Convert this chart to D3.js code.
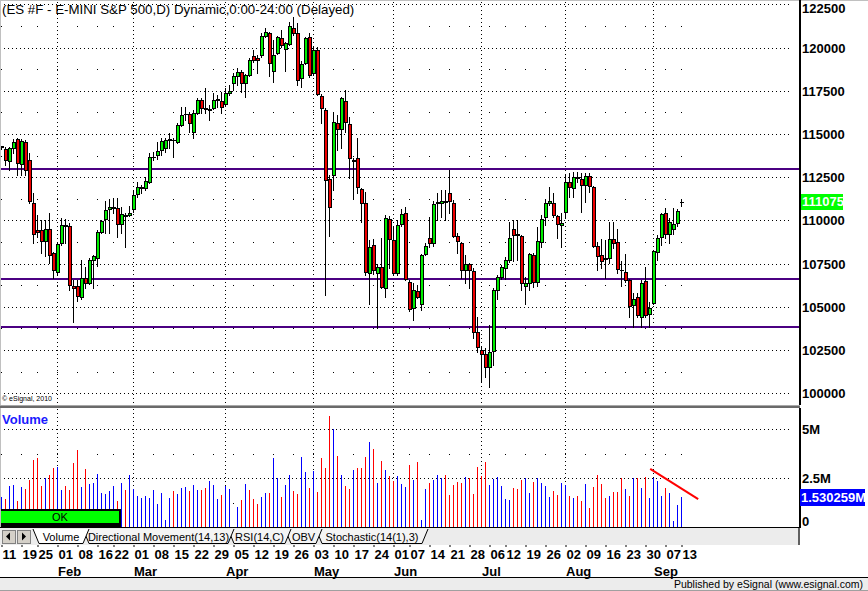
<!DOCTYPE html>
<html><head><meta charset="utf-8">
<script src="https://cdn.jsdelivr.net/npm/d3@7"></script>
<style>body{margin:0;background:#fff}svg{display:block}</style>
</head><body><svg id="c" width="868" height="591"></svg>
<script>
// ---------- DATA ----------
const title = "(ES #F - E-MINI S&P 500,D) Dynamic,0:00-24:00 (Delayed)";
// daily bars, index 0 = 11 Jan 2010 ... 170 = 13 Sep 2010 (index points; axis shows x100)
const open = [1142.2,1141.3,1134.4,1141.9,1147.1,1132.6,1145.4,1135.0,1110.1,1094.4,
1094.4,1088.1,1095.0,1081.1,1070.1,1086.9,1097.6,1096.8,1062.0,1062.0,
1055.7,1066.7,1063.8,1077.1,1078.2,1093.3,1100.8,1106.6,1106.9,1107.2,
1097.9,1103.4,1103.4,1106.6,1115.3,1118.5,1118.8,1122.2,1136.5,1137.9,
1140.7,1141.9,1146.8,1146.8,1145.4,1155.2,1161.3,1161.6,1151.2,1162.2,
1169.7,1165.3,1163.6,1165.0,1169.4,1169.1,1167.4,1174.0,1179.5,1183.6,
1185.9,1179.5,1184.1,1195.1,1193.7,1195.7,1206.7,1208.4,1186.5,1196.9,
1205.6,1199.2,1202.1,1211.3,1208.4,1182.4,1191.1,1206.1,1185.3,1198.6,
1172.0,1163.9,1124.0,1126.3,1156.4,1152.9,1169.1,1155.8,1134.1,1136.1,
1118.2,1110.1,1069.6,1085.8,1069.6,1073.0,1060.9,1100.8,1088.7,1069.6,
1097.9,1104.3,1064.4,1049.3,1059.2,1051.6,1080.6,1089.8,1086.9,1109.8,
1110.1,1111.5,1115.9,1110.1,1091.0,1086.9,1071.3,1074.8,1070.7,1035.4,
1025.0,1022.7,1015.2,1024.4,1059.7,1067.3,1072.5,1077.1,1095.0,1091.9,
1091.0,1062.0,1063.8,1080.0,1064.4,1087.5,1102.0,1110.1,1110.1,1102.5,
1097.3,1104.9,1122.2,1118.8,1124.9,1124.0,1120.5,1125.7,1119.3,1085.2,
1080.0,1078.0,1078.2,1089.2,1087.5,1071.5,1070.1,1065.5,1051.0,1055.7,
1044.1,1064.9,1045.8,1052.2,1081.7,1090.4,1104.3,1092.1,1095.0,1098.5,
1110.75];
const high = [1143.2,1142.5,1142.5,1147.1,1147.7,1147.1,1146.6,1139.0,1115.9,1103.1,
1100.2,1100.2,1104.3,1081.5,1086.9,1101.4,1100.8,1098.5,1065.5,1065.5,
1077.1,1073.0,1078.2,1080.0,1094.4,1100.2,1111.2,1112.4,1113.0,1113.0,
1107.8,1104.3,1108.3,1117.6,1122.2,1120.5,1125.1,1139.0,1139.6,1145.4,
1147.7,1147.7,1150.6,1147.7,1156.4,1165.6,1165.6,1162.7,1163.9,1170.8,
1170.8,1176.6,1166.8,1173.7,1172.6,1174.3,1176.6,1178.4,1185.3,1188.2,
1187.0,1184.7,1194.0,1198.6,1195.7,1208.4,1211.3,1209.0,1204.4,1206.7,
1210.2,1203.2,1214.8,1217.7,1214.2,1192.2,1206.1,1208.4,1200.4,1200.4,
1173.1,1165.0,1126.3,1162.7,1161.0,1171.4,1175.5,1159.8,1136.1,1147.7,
1118.8,1116.5,1088.7,1089.2,1074.8,1089.8,1103.1,1102.5,1096.2,1100.2,
1106.6,1107.8,1065.5,1063.8,1062.6,1080.6,1086.9,1102.0,1111.2,1115.9,
1117.6,1117.6,1129.2,1111.8,1092.7,1087.5,1080.0,1075.4,1072.5,1044.1,
1026.7,1026.2,1039.5,1060.9,1068.4,1074.2,1078.8,1099.1,1100.2,1100.2,
1091.6,1067.3,1081.1,1081.1,1096.2,1103.1,1111.8,1119.3,1115.9,1103.1,
1104.3,1126.9,1127.4,1128.0,1128.0,1127.4,1127.4,1127.4,1119.9,1087.5,
1089.2,1088.7,1099.1,1099.1,1095.0,1076.5,1080.6,1066.1,1058.0,1058.0,
1065.5,1073.0,1052.8,1082.9,1091.6,1104.3,1107.2,1101.4,1107.2,1106.6,
1112.4];
const low = [1141.6,1132.1,1129.2,1139.0,1126.3,1126.3,1126.3,1110.1,1086.9,1090.4,
1081.1,1079.4,1075.3,1066.7,1068.4,1085.8,1086.9,1059.7,1041.2,1053.4,
1054.5,1060.9,1063.2,1060.9,1073.6,1092.7,1092.7,1092.7,1104.3,1090.4,
1092.7,1084.6,1102.5,1104.9,1113.6,1115.9,1117.6,1121.6,1135.0,1135.5,
1137.9,1139.6,1141.9,1136.7,1144.8,1154.6,1158.1,1151.2,1147.7,1161.6,
1162.2,1162.2,1158.1,1164.5,1165.6,1162.2,1166.8,1172.6,1175.5,1178.4,
1174.3,1171.4,1183.6,1191.7,1185.3,1194.6,1206.1,1183.6,1180.1,1196.3,
1200.4,1186.5,1201.5,1207.3,1178.4,1177.2,1190.5,1183.0,1184.1,1172.6,
1156.4,1056.8,1091.0,1117.6,1140.7,1141.9,1151.2,1124.6,1113.0,1115.9,
1099.1,1068.4,1051.6,1069.0,1037.7,1060.9,1055.7,1072.5,1068.4,1068.4,
1096.8,1065.5,1047.6,1042.4,1055.1,1048.1,1080.0,1084.6,1085.2,1100.2,
1102.0,1100.2,1104.3,1090.4,1081.1,1066.7,1063.8,1060.9,1032.0,1023.8,
1006.5,1009.4,1003.6,1016.3,1054.5,1066.1,1066.1,1075.9,1076.5,1077.1,
1059.7,1051.6,1059.7,1061.5,1062.0,1084.6,1097.3,1108.9,1102.0,1089.8,
1084.6,1102.0,1113.6,1113.6,1122.2,1104.9,1110.6,1116.5,1084.6,1071.3,
1072.5,1066.7,1075.3,1084.0,1069.6,1062.0,1064.4,1044.1,1038.3,1044.1,
1038.3,1044.1,1038.3,1051.6,1077.1,1085.8,1089.8,1086.9,1092.1,1096.8,
1108.3];
const close = [1142.8,1135.0,1141.9,1145.4,1133.2,1146.0,1129.2,1111.2,1092.1,1093.3,
1088.1,1095.0,1080.0,1071.3,1086.3,1097.3,1097.0,1062.6,1060.9,1056.3,
1066.7,1063.8,1077.1,1079.4,1093.3,1099.6,1106.0,1107.8,1107.5,1097.9,
1103.7,1102.8,1104.0,1114.7,1119.3,1119.1,1122.8,1136.7,1136.9,1140.2,
1146.0,1146.6,1147.3,1146.4,1155.2,1161.0,1161.8,1156.4,1162.2,1169.7,
1165.0,1164.7,1164.2,1169.7,1170.0,1165.6,1173.7,1174.6,1183.6,1185.9,
1179.5,1184.1,1192.8,1192.8,1193.1,1206.7,1209.0,1191.1,1195.7,1206.1,
1201.5,1202.7,1212.5,1208.4,1181.3,1190.5,1205.6,1184.1,1198.6,1173.1,
1165.0,1123.4,1107.8,1157.0,1152.9,1170.8,1157.0,1136.1,1134.7,1119.3,
1110.1,1070.1,1084.6,1071.3,1073.0,1061.5,1101.4,1089.2,1069.6,1097.3,
1103.7,1066.1,1048.7,1059.7,1055.7,1080.0,1085.2,1086.9,1109.5,1110.4,
1111.2,1110.9,1111.2,1091.0,1088.1,1071.3,1074.8,1071.3,1035.4,1026.7,
1022.7,1015.2,1023.8,1059.7,1067.3,1073.0,1077.1,1089.8,1091.6,1091.3,
1063.8,1063.8,1080.6,1064.4,1088.1,1100.8,1110.1,1111.2,1103.1,1097.9,
1098.5,1122.2,1119.3,1125.1,1124.3,1120.5,1125.7,1119.9,1085.2,1079.4,
1076.5,1077.4,1089.2,1086.9,1071.9,1071.1,1065.5,1050.5,1054.5,1045.3,
1063.8,1045.3,1049.3,1082.3,1089.8,1103.7,1092.1,1099.1,1097.9,1105.4,
1110.75];
// volume in millions of contracts, and its colour (b = blue, r = red)
const volume = [1.54,1.44,2.09,2.14,1.34,2.04,1.94,2.39,3.44,3.54,
2.09,2.49,2.64,3.04,3.09,1.89,2.09,1.89,3.29,3.94,
2.04,2.99,2.19,2.24,2.74,1.74,1.69,1.84,2.09,1.34,
2.24,1.89,2.69,1.94,1.59,1.49,1.59,1.49,1.89,1.19,
1.74,0.39,1.49,1.84,1.69,1.99,2.04,1.84,2.14,1.89,
1.89,1.99,2.34,2.14,1.44,1.64,2.09,1.94,0.02,1.04,
1.39,2.19,1.89,1.44,1.19,1.54,1.74,1.74,3.54,2.49,
1.54,2.14,2.64,1.84,1.69,3.59,2.84,1.99,2.89,1.79,
3.54,3.04,5.64,4.99,3.64,2.64,2.09,1.94,2.94,3.04,
3.04,3.59,4.34,3.99,2.24,3.39,2.94,2.59,2.34,2.59,
2.19,2.04,3.19,2.39,3.34,0.39,1.94,2.24,2.39,2.69,
2.49,2.69,1.64,2.14,2.29,2.24,2.54,2.49,1.69,3.09,
2.59,3.34,2.14,2.44,2.54,2.09,1.44,1.39,1.99,1.94,
2.39,2.49,1.74,2.29,2.49,2.24,2.09,1.54,1.84,1.64,
2.24,2.14,1.59,1.49,1.59,1.34,2.19,0.99,2.04,2.64,
2.19,1.49,1.59,1.79,1.79,2.49,1.94,1.59,2.49,2.49,
1.99,2.54,1.49,2.49,2.34,1.59,1.99,1.74,0.34,1.14,
1.530259];
const volDir = "brbbrbrrrr"+"rbrrbbrrrr"+"brbbbbbbbr"+"brbbbbbbbb"+"bbbrbbbrbb"+
"rrbbbrbbbb"+"rbrrrbbrbb"+"rbbrrbbrbr"+"rrrbrbrrbr"+"rrbrbrbrrb"+
"bbrbrbbrbb"+"brrrrrbrrr"+"rrbbbbbbrr"+"rbbrbbbbrr"+"bbrbrrbrrr"+
"rrbrrrbrbr"+"brbbbbrbbb"+"b";
const weekIdx = [0,5,9,14,19,24,28,33,38,43,48,53,58,63,68,73,78,83,88,93,98,102,107,112,117,122,126,131,136,141,146,151,156,161,166,170];
const weekLbl = ["11","19","25","01","08","16","22","01","08","15","22","29","05","12","19","26","03","10","17","24","01","07","14","21","28","06","12","19","26","02","09","16","23","30","07","13"];
const monthIdx = [14,33,56,78,98,120,141,163];
const monthLbl = ["Feb","Mar","Apr","May","Jun","Jul","Aug","Sep"];
const priceTicks = [1000,1025,1050,1075,1100,1125,1150,1175,1200,1225];
const levels = [1130.0,1066.0,1038.5];        // horizontal support/resistance lines
const lastPrice = 1110.75, lastVolume = 1.530259;
const volTicks = [0,2.5,5];
const volTrend = [{i:162.3,v:2.98},{i:174.3,v:1.44}]; // red annotation line
const tabs = ["Volume","Directional Movement(14,13)","RSI(14,C)","OBV","Stochastic(14(1),3)"];

// ---------- DRAW ----------
const FONT = '"Liberation Sans", Arial, sans-serif';
const svg = d3.select('#c').style('font-family', FONT);
const x = d3.scaleLinear().domain([0,170]).range([1,681]);
const y = d3.scaleLinear().domain([1000,1225]).range([393.2,4.4]);
const yv = d3.scaleLinear().domain([0,5]).range([527.5,429]);
const R = Math.round;

const g = svg.append('g').attr('shape-rendering','crispEdges');
g.append('rect').attr('width',868).attr('height',591).attr('fill','#fff');

// price grid
const minorVals = d3.range(1012.5,1225,25);
g.selectAll('.pg').data(priceTicks).join('line')
  .attr('x1',0).attr('x2',792).attr('y1',d=>R(y(d))+0.5).attr('y2',d=>R(y(d))+0.5)
  .attr('stroke','#000').attr('stroke-dasharray','1,3');
minorVals.forEach(v=>{
  g.selectAll(null).data(weekIdx).join('rect')
    .attr('x',d=>x(d)).attr('y',R(y(v))).attr('width',1).attr('height',1).attr('fill','#000');
});
// volume grid
g.selectAll('.vg').data([2.5,5]).join('line')
  .attr('x1',0).attr('x2',792).attr('y1',d=>R(yv(d))+0.5).attr('y2',d=>R(yv(d))+0.5)
  .attr('stroke','#000').attr('stroke-dasharray','1,3');
[1.25,3.75].forEach(v=>{
  g.selectAll(null).data(weekIdx).join('rect')
    .attr('x',d=>x(d)).attr('y',R(yv(v))).attr('width',1).attr('height',1).attr('fill','#000');
});
// month lines
g.selectAll('.ml').data(monthIdx).join('line')
  .attr('x1',d=>x(d)+0.5).attr('x2',d=>x(d)+0.5).attr('y1',2).attr('y2',404)
  .attr('stroke','#000').attr('stroke-dasharray','1,3');
g.selectAll('.ml2').data(monthIdx).join('line')
  .attr('x1',d=>x(d)+0.5).attr('x2',d=>x(d)+0.5).attr('y1',409).attr('y2',527)
  .attr('stroke','#000').attr('stroke-dasharray','1,3');

// levels
g.selectAll('.lv').data(levels).join('rect')
  .attr('x',0).attr('width',800).attr('y',d=>R(y(d))-1).attr('height',2).attr('fill','#4b0082');

// candles
const idx = d3.range(open.length);
const cg = g.append('g');
idx.forEach(i=>{
  const px = R(x(i));
  const yh = R(y(high[i])), yl = R(y(low[i]));
  const yt = R(y(Math.max(open[i],close[i]))), yb = R(y(Math.min(open[i],close[i])));
  cg.append('rect').attr('x',px).attr('y',yh).attr('width',1).attr('height',Math.max(1,yl-yh+1)).attr('fill','#000');
  cg.append('rect').attr('x',px-1).attr('y',yt).attr('width',4).attr('height',Math.max(1,yb-yt+1)).attr('fill','#000');
  if (yb-yt >= 2) {
    cg.append('rect').attr('x',px).attr('y',yt+1).attr('width',2).attr('height',yb-yt-1)
      .attr('fill', close[i] >= open[i] ? '#00ee00' : '#ee0000');
  }
});

// volume bars
g.selectAll('.vb').data(idx).join('rect')
  .attr('x',i=>R(x(i))).attr('width',1)
  .attr('y',i=>R(yv(volume[i]))).attr('height',i=>Math.max(0,527-R(yv(volume[i]))))
  .attr('fill',i=>volDir[i]==='r'?'#ff0000':'#0000ff');

// volume trend annotation
svg.append('line').attr('x1',x(volTrend[0].i)).attr('y1',yv(volTrend[0].v))
  .attr('x2',x(volTrend[1].i)).attr('y2',yv(volTrend[1].v))
  .attr('stroke','#ff0000').attr('stroke-width',2);

// OK box
g.append('rect').attr('x',0).attr('y',509).attr('width',121).attr('height',19).attr('fill','#000');
g.append('rect').attr('x',1).attr('y',511).attr('width',118).attr('height',12).attr('fill','#00ff00');
svg.append('text').attr('x',60).attr('y',521).attr('text-anchor','middle').attr('font-size',11).text('OK');

// frame lines
g.append('rect').attr('x',0).attr('y',0).attr('width',868).attr('height',1).attr('fill','#c0c0c0');
g.append('rect').attr('x',0).attr('y',0).attr('width',1).attr('height',545).attr('fill','#c0c0c0');
g.append('rect').attr('x',0).attr('y',405).attr('width',800).attr('height',1).attr('fill','#a8a8a8');
g.append('rect').attr('x',0).attr('y',406).attr('width',800).attr('height',2).attr('fill','#6a6a6a');
g.append('rect').attr('x',0).attr('y',527).attr('width',800).attr('height',1).attr('fill','#000');
// tab strip
g.append('rect').attr('x',0).attr('y',528).attr('width',798).attr('height',17).attr('fill','#ececec');
g.append('rect').attr('x',798).attr('y',528).attr('width',2).attr('height',17).attr('fill','#606060');
// axis lines
g.append('rect').attr('x',799).attr('y',0).attr('width',2).attr('height',405).attr('fill','#000');
g.append('rect').attr('x',799).attr('y',408).attr('width',2).attr('height',120).attr('fill','#000');

// scroll buttons
[2,17].forEach((bx,k)=>{
  g.append('rect').attr('x',bx).attr('y',530).attr('width',13).attr('height',13).attr('fill','#d4d0c8').attr('stroke','#808080');
  svg.append('path').attr('d',k===0?`M${bx+4},536.5 L${bx+8},532.5 L${bx+8},540.5Z`:`M${bx+5},532.5 L${bx+9},536.5 L${bx+5},540.5Z`).attr('fill','#000');
});
// tabs
const tabX = [[33,89],[83,234],[228,291],[285,322],[316,428]];
const tabOrder = [4,3,2,1,0];
tabOrder.forEach(k=>{
  const [a,b] = tabX[k];
  svg.append('path').attr('d',`M${a},529 L${a+6},543.5 L${b-6},543.5 L${b},529`)
    .attr('fill',k===0?'#fff':'#f4f4f4').attr('stroke','#000').attr('stroke-width',1);
  svg.append('text').attr('x',(a+b)/2).attr('y',540.5).attr('text-anchor','middle')
    .attr('font-size',11).attr('fill','#000').text(tabs[k]);
});

// title & texts
svg.append('text').attr('x',2).attr('y',14).attr('font-size',13.3).attr('fill','#000').text(title);
svg.append('text').attr('x',2).attr('y',401).attr('font-size',7).attr('fill','#000').text('\u00a9 eSignal, 2010');
svg.append('text').attr('x',2).attr('y',424).attr('font-size',13).attr('font-weight','bold').attr('fill','#1a1aff').text('Volume');

// price axis
const pa = svg.append('g').attr('transform','translate(800,0)')
  .call(d3.axisRight(y).tickValues(priceTicks).tickFormat(d=>String(d*100)).tickSize(0).tickPadding(2));
pa.select('.domain').remove();
pa.selectAll('text').attr('font-size',13).attr('font-weight','bold').attr('font-family',FONT).attr('fill','#000')
  .attr('dy',null).attr('dominant-baseline','central')
  .attr('y',d=>Math.max(y(d),8)-y(d));
// last price box
svg.append('rect').attr('x',801).attr('y',R(y(lastPrice))-8).attr('width',42).attr('height',16).attr('fill','#00ff00');
svg.append('text').attr('x',802).attr('y',y(lastPrice)).attr('dominant-baseline','central')
  .attr('font-size',13).attr('font-weight','bold').attr('fill','#fff').text(String(lastPrice*100));

// volume axis
const va = svg.append('g').attr('transform','translate(800,0)')
  .call(d3.axisRight(yv).tickValues(volTicks).tickFormat(d=>d===0?'0':d+'M').tickSize(0).tickPadding(2));
va.select('.domain').remove();
va.selectAll('text').attr('font-size',13).attr('font-weight','bold').attr('font-family',FONT).attr('fill','#000')
  .attr('dy',null).attr('dominant-baseline','central')
  .attr('y',d=>Math.min(yv(d),521)-yv(d));
svg.append('rect').attr('x',800).attr('y',R(yv(lastVolume))-8).attr('width',65).attr('height',17).attr('fill','#0000ff');
svg.append('text').attr('x',801).attr('y',yv(lastVolume)+0.5).attr('dominant-baseline','central')
  .attr('font-size',13).attr('font-weight','bold').attr('fill','#fff').text(lastVolume.toFixed(6)+'M');

// date axis
const da = svg.append('g').attr('transform','translate(0,545)')
  .call(d3.axisBottom(x).tickValues(weekIdx).tickFormat((d,i)=>weekLbl[i]).tickSize(2).tickPadding(2));
da.select('.domain').remove();
da.selectAll('line').attr('stroke','#000').attr('transform','translate(0.5,0)');
da.selectAll('text').attr('font-size',13).attr('font-weight','bold').attr('font-family',FONT).attr('fill','#000')
  .attr('text-anchor','start').attr('x',1).attr('y',9).attr('dy',null).attr('dominant-baseline','central');
svg.selectAll('.mon').data(monthIdx).join('text')
  .attr('x',d=>x(d)+1).attr('y',571).attr('dominant-baseline','central')
  .attr('font-size',13).attr('font-weight','bold').text((d,i)=>monthLbl[i]);

// status bar
g.append('rect').attr('x',0).attr('y',577).attr('width',868).attr('height',1).attr('fill','#000');
g.append('rect').attr('x',0).attr('y',578).attr('width',868).attr('height',13).attr('fill','#ececec');
g.append('rect').attr('x',0).attr('y',590).attr('width',868).attr('height',1).attr('fill','#a0a0a0');
svg.append('text').attr('x',863).attr('y',588).attr('text-anchor','end').attr('font-size',10.5).attr('fill','#000')
  .text('Published by eSignal (www.esignal.com)');
</script></body></html>
